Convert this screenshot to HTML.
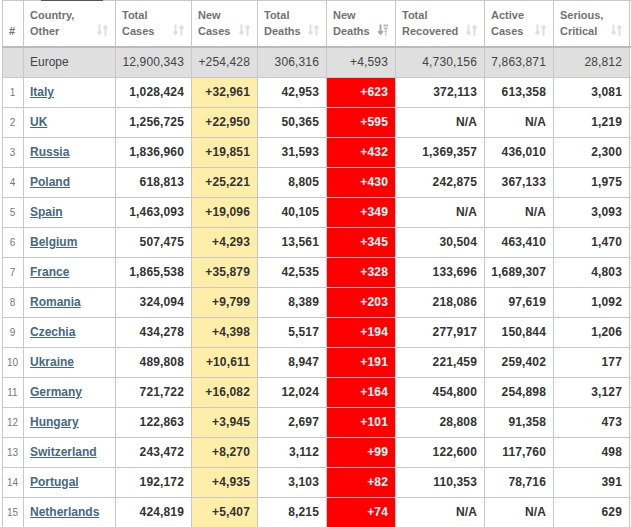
<!DOCTYPE html><html><head><meta charset="utf-8"><style>
html,body{margin:0;padding:0;background:#fff;width:631px;height:527px;overflow:hidden;position:relative;font-family:"Liberation Sans",sans-serif;}
.c{position:absolute;box-sizing:border-box;}
.vl{position:absolute;top:0;width:1px;height:527px;background:#c8c8c8;}
.hl{position:absolute;left:2px;width:640px;height:1px;background:#c8c8c8;}
.th{position:absolute;top:0;height:47px;color:#727272;font-size:11px;font-weight:bold;line-height:16px;}
.th .t{position:absolute;left:7px;top:7px;}
.th .si{position:absolute;right:7px;top:24px;}
.num{position:absolute;text-align:right;font-size:12px;font-weight:bold;color:#333;line-height:30px;letter-spacing:0.15px;}
.eu{font-weight:normal;color:#444;font-size:12px;}
.rn{position:absolute;font-size:10px;color:#777;line-height:30px;padding-top:1px;}
.cn{position:absolute;font-size:12px;font-weight:bold;line-height:30px;}
.cn a{color:#466886;text-decoration:underline;}
</style></head><body>

<div class="c" style="left:2px;top:47px;width:627px;height:30px;background:#dfdfdf"></div>
<div class="c" style="left:191px;top:77px;width:66px;height:450px;background:#ffeeaa"></div>
<div class="c" style="left:326px;top:77px;width:69px;height:450px;background:#ff0000"></div>
<div class="vl" style="left:2px"></div>
<div class="vl" style="left:23px"></div>
<div class="vl" style="left:115px"></div>
<div class="vl" style="left:191px"></div>
<div class="vl" style="left:257px"></div>
<div class="vl" style="left:326px"></div>
<div class="vl" style="left:395px"></div>
<div class="vl" style="left:484px"></div>
<div class="vl" style="left:553px"></div>
<div class="hl" style="top:0px"></div>
<div class="c" style="left:41px;top:0;width:62px;height:1px;background:#555"></div>
<div class="vl" style="left:629px"></div>
<div class="hl" style="top:46px;height:2px;background:#bbb"></div>
<div class="hl" style="top:77px"></div>
<div class="hl" style="top:107px"></div>
<div class="hl" style="top:137px"></div>
<div class="hl" style="top:167px"></div>
<div class="hl" style="top:197px"></div>
<div class="hl" style="top:227px"></div>
<div class="hl" style="top:257px"></div>
<div class="hl" style="top:287px"></div>
<div class="hl" style="top:317px"></div>
<div class="hl" style="top:347px"></div>
<div class="hl" style="top:377px"></div>
<div class="hl" style="top:407px"></div>
<div class="hl" style="top:437px"></div>
<div class="hl" style="top:467px"></div>
<div class="hl" style="top:497px"></div>
<div class="hl" style="top:527px"></div>
<div class="th" style="left:2px;width:21px"><span class="t" style="top:23px;left:7px">#</span></div>
<div class="th" style="left:23px;width:92px"><span class="t">Country,<br>Other</span><svg class="si" width="11" height="12" viewBox="0 0 11 12"><path d="M2.5 0.5v9M0.5 7.5l2 2.5 2-2.5" stroke="#e0e0e0" stroke-width="2" fill="none"/><path d="M8.5 11.5v-9M6.5 4.5l2-2.5 2 2.5" stroke="#e0e0e0" stroke-width="2" fill="none"/></svg></div>
<div class="th" style="left:115px;width:76px"><span class="t">Total<br>Cases</span><svg class="si" width="11" height="12" viewBox="0 0 11 12"><path d="M2.5 0.5v9M0.5 7.5l2 2.5 2-2.5" stroke="#e0e0e0" stroke-width="2" fill="none"/><path d="M8.5 11.5v-9M6.5 4.5l2-2.5 2 2.5" stroke="#e0e0e0" stroke-width="2" fill="none"/></svg></div>
<div class="th" style="left:191px;width:66px"><span class="t">New<br>Cases</span><svg class="si" width="11" height="12" viewBox="0 0 11 12"><path d="M2.5 0.5v9M0.5 7.5l2 2.5 2-2.5" stroke="#e0e0e0" stroke-width="2" fill="none"/><path d="M8.5 11.5v-9M6.5 4.5l2-2.5 2 2.5" stroke="#e0e0e0" stroke-width="2" fill="none"/></svg></div>
<div class="th" style="left:257px;width:69px"><span class="t">Total<br>Deaths</span><svg class="si" width="11" height="12" viewBox="0 0 11 12"><path d="M2.5 0.5v9M0.5 7.5l2 2.5 2-2.5" stroke="#e0e0e0" stroke-width="2" fill="none"/><path d="M8.5 11.5v-9M6.5 4.5l2-2.5 2 2.5" stroke="#e0e0e0" stroke-width="2" fill="none"/></svg></div>
<div class="th" style="left:326px;width:69px"><span class="t">New<br>Deaths</span><svg class="si" width="11" height="12" viewBox="0 0 11 12"><path d="M3.5 0.5v9M1.2 7.2l2.3 2.8 2.3-2.8" stroke="#aaa" stroke-width="2" fill="none"/><path d="M6.5 1.5h4.5M7 4.5h3.5M7.5 7.5h2.5M8 10.5h1.5" stroke="#bbb" stroke-width="2" fill="none"/></svg></div>
<div class="th" style="left:395px;width:89px"><span class="t">Total<br>Recovered</span><svg class="si" width="11" height="12" viewBox="0 0 11 12"><path d="M2.5 0.5v9M0.5 7.5l2 2.5 2-2.5" stroke="#e0e0e0" stroke-width="2" fill="none"/><path d="M8.5 11.5v-9M6.5 4.5l2-2.5 2 2.5" stroke="#e0e0e0" stroke-width="2" fill="none"/></svg></div>
<div class="th" style="left:484px;width:69px"><span class="t">Active<br>Cases</span><svg class="si" width="11" height="12" viewBox="0 0 11 12"><path d="M2.5 0.5v9M0.5 7.5l2 2.5 2-2.5" stroke="#e0e0e0" stroke-width="2" fill="none"/><path d="M8.5 11.5v-9M6.5 4.5l2-2.5 2 2.5" stroke="#e0e0e0" stroke-width="2" fill="none"/></svg></div>
<div class="th" style="left:553px;width:76px"><span class="t">Serious,<br>Critical</span><svg class="si" width="11" height="12" viewBox="0 0 11 12"><path d="M2.5 0.5v9M0.5 7.5l2 2.5 2-2.5" stroke="#e0e0e0" stroke-width="2" fill="none"/><path d="M8.5 11.5v-9M6.5 4.5l2-2.5 2 2.5" stroke="#e0e0e0" stroke-width="2" fill="none"/></svg></div>
<div class="cn" style="left:30px;top:47px;font-weight:normal;color:#444">Europe</div>
<div class="num eu" style="left:115px;top:47px;width:69px;height:30px;">12,900,343</div>
<div class="num eu" style="left:191px;top:47px;width:59px;height:30px;">+254,428</div>
<div class="num eu" style="left:257px;top:47px;width:62px;height:30px;">306,316</div>
<div class="num eu" style="left:326px;top:47px;width:62px;height:30px;">+4,593</div>
<div class="num eu" style="left:395px;top:47px;width:82px;height:30px;">4,730,156</div>
<div class="num eu" style="left:484px;top:47px;width:62px;height:30px;">7,863,871</div>
<div class="num eu" style="left:553px;top:47px;width:69px;height:30px;">28,812</div>
<div class="rn" style="left:2px;width:21px;text-align:center;top:77px">1</div>
<div class="cn" style="left:30px;top:77px"><a>Italy</a></div>
<div class="num" style="left:115px;top:77px;width:69px;height:30px;">1,028,424</div>
<div class="num" style="left:191px;top:77px;width:59px;height:30px;">+32,961</div>
<div class="num" style="left:257px;top:77px;width:62px;height:30px;">42,953</div>
<div class="num" style="left:326px;top:77px;width:62px;height:30px;color:#fff;">+623</div>
<div class="num" style="left:395px;top:77px;width:82px;height:30px;">372,113</div>
<div class="num" style="left:484px;top:77px;width:62px;height:30px;">613,358</div>
<div class="num" style="left:553px;top:77px;width:69px;height:30px;">3,081</div>
<div class="rn" style="left:2px;width:21px;text-align:center;top:107px">2</div>
<div class="cn" style="left:30px;top:107px"><a>UK</a></div>
<div class="num" style="left:115px;top:107px;width:69px;height:30px;">1,256,725</div>
<div class="num" style="left:191px;top:107px;width:59px;height:30px;">+22,950</div>
<div class="num" style="left:257px;top:107px;width:62px;height:30px;">50,365</div>
<div class="num" style="left:326px;top:107px;width:62px;height:30px;color:#fff;">+595</div>
<div class="num" style="left:395px;top:107px;width:82px;height:30px;">N/A</div>
<div class="num" style="left:484px;top:107px;width:62px;height:30px;">N/A</div>
<div class="num" style="left:553px;top:107px;width:69px;height:30px;">1,219</div>
<div class="rn" style="left:2px;width:21px;text-align:center;top:137px">3</div>
<div class="cn" style="left:30px;top:137px"><a>Russia</a></div>
<div class="num" style="left:115px;top:137px;width:69px;height:30px;">1,836,960</div>
<div class="num" style="left:191px;top:137px;width:59px;height:30px;">+19,851</div>
<div class="num" style="left:257px;top:137px;width:62px;height:30px;">31,593</div>
<div class="num" style="left:326px;top:137px;width:62px;height:30px;color:#fff;">+432</div>
<div class="num" style="left:395px;top:137px;width:82px;height:30px;">1,369,357</div>
<div class="num" style="left:484px;top:137px;width:62px;height:30px;">436,010</div>
<div class="num" style="left:553px;top:137px;width:69px;height:30px;">2,300</div>
<div class="rn" style="left:2px;width:21px;text-align:center;top:167px">4</div>
<div class="cn" style="left:30px;top:167px"><a>Poland</a></div>
<div class="num" style="left:115px;top:167px;width:69px;height:30px;">618,813</div>
<div class="num" style="left:191px;top:167px;width:59px;height:30px;">+25,221</div>
<div class="num" style="left:257px;top:167px;width:62px;height:30px;">8,805</div>
<div class="num" style="left:326px;top:167px;width:62px;height:30px;color:#fff;">+430</div>
<div class="num" style="left:395px;top:167px;width:82px;height:30px;">242,875</div>
<div class="num" style="left:484px;top:167px;width:62px;height:30px;">367,133</div>
<div class="num" style="left:553px;top:167px;width:69px;height:30px;">1,975</div>
<div class="rn" style="left:2px;width:21px;text-align:center;top:197px">5</div>
<div class="cn" style="left:30px;top:197px"><a>Spain</a></div>
<div class="num" style="left:115px;top:197px;width:69px;height:30px;">1,463,093</div>
<div class="num" style="left:191px;top:197px;width:59px;height:30px;">+19,096</div>
<div class="num" style="left:257px;top:197px;width:62px;height:30px;">40,105</div>
<div class="num" style="left:326px;top:197px;width:62px;height:30px;color:#fff;">+349</div>
<div class="num" style="left:395px;top:197px;width:82px;height:30px;">N/A</div>
<div class="num" style="left:484px;top:197px;width:62px;height:30px;">N/A</div>
<div class="num" style="left:553px;top:197px;width:69px;height:30px;">3,093</div>
<div class="rn" style="left:2px;width:21px;text-align:center;top:227px">6</div>
<div class="cn" style="left:30px;top:227px"><a>Belgium</a></div>
<div class="num" style="left:115px;top:227px;width:69px;height:30px;">507,475</div>
<div class="num" style="left:191px;top:227px;width:59px;height:30px;">+4,293</div>
<div class="num" style="left:257px;top:227px;width:62px;height:30px;">13,561</div>
<div class="num" style="left:326px;top:227px;width:62px;height:30px;color:#fff;">+345</div>
<div class="num" style="left:395px;top:227px;width:82px;height:30px;">30,504</div>
<div class="num" style="left:484px;top:227px;width:62px;height:30px;">463,410</div>
<div class="num" style="left:553px;top:227px;width:69px;height:30px;">1,470</div>
<div class="rn" style="left:2px;width:21px;text-align:center;top:257px">7</div>
<div class="cn" style="left:30px;top:257px"><a>France</a></div>
<div class="num" style="left:115px;top:257px;width:69px;height:30px;">1,865,538</div>
<div class="num" style="left:191px;top:257px;width:59px;height:30px;">+35,879</div>
<div class="num" style="left:257px;top:257px;width:62px;height:30px;">42,535</div>
<div class="num" style="left:326px;top:257px;width:62px;height:30px;color:#fff;">+328</div>
<div class="num" style="left:395px;top:257px;width:82px;height:30px;">133,696</div>
<div class="num" style="left:484px;top:257px;width:62px;height:30px;">1,689,307</div>
<div class="num" style="left:553px;top:257px;width:69px;height:30px;">4,803</div>
<div class="rn" style="left:2px;width:21px;text-align:center;top:287px">8</div>
<div class="cn" style="left:30px;top:287px"><a>Romania</a></div>
<div class="num" style="left:115px;top:287px;width:69px;height:30px;">324,094</div>
<div class="num" style="left:191px;top:287px;width:59px;height:30px;">+9,799</div>
<div class="num" style="left:257px;top:287px;width:62px;height:30px;">8,389</div>
<div class="num" style="left:326px;top:287px;width:62px;height:30px;color:#fff;">+203</div>
<div class="num" style="left:395px;top:287px;width:82px;height:30px;">218,086</div>
<div class="num" style="left:484px;top:287px;width:62px;height:30px;">97,619</div>
<div class="num" style="left:553px;top:287px;width:69px;height:30px;">1,092</div>
<div class="rn" style="left:2px;width:21px;text-align:center;top:317px">9</div>
<div class="cn" style="left:30px;top:317px"><a>Czechia</a></div>
<div class="num" style="left:115px;top:317px;width:69px;height:30px;">434,278</div>
<div class="num" style="left:191px;top:317px;width:59px;height:30px;">+4,398</div>
<div class="num" style="left:257px;top:317px;width:62px;height:30px;">5,517</div>
<div class="num" style="left:326px;top:317px;width:62px;height:30px;color:#fff;">+194</div>
<div class="num" style="left:395px;top:317px;width:82px;height:30px;">277,917</div>
<div class="num" style="left:484px;top:317px;width:62px;height:30px;">150,844</div>
<div class="num" style="left:553px;top:317px;width:69px;height:30px;">1,206</div>
<div class="rn" style="left:2px;width:21px;text-align:center;top:347px">10</div>
<div class="cn" style="left:30px;top:347px"><a>Ukraine</a></div>
<div class="num" style="left:115px;top:347px;width:69px;height:30px;">489,808</div>
<div class="num" style="left:191px;top:347px;width:59px;height:30px;">+10,611</div>
<div class="num" style="left:257px;top:347px;width:62px;height:30px;">8,947</div>
<div class="num" style="left:326px;top:347px;width:62px;height:30px;color:#fff;">+191</div>
<div class="num" style="left:395px;top:347px;width:82px;height:30px;">221,459</div>
<div class="num" style="left:484px;top:347px;width:62px;height:30px;">259,402</div>
<div class="num" style="left:553px;top:347px;width:69px;height:30px;">177</div>
<div class="rn" style="left:2px;width:21px;text-align:center;top:377px">11</div>
<div class="cn" style="left:30px;top:377px"><a>Germany</a></div>
<div class="num" style="left:115px;top:377px;width:69px;height:30px;">721,722</div>
<div class="num" style="left:191px;top:377px;width:59px;height:30px;">+16,082</div>
<div class="num" style="left:257px;top:377px;width:62px;height:30px;">12,024</div>
<div class="num" style="left:326px;top:377px;width:62px;height:30px;color:#fff;">+164</div>
<div class="num" style="left:395px;top:377px;width:82px;height:30px;">454,800</div>
<div class="num" style="left:484px;top:377px;width:62px;height:30px;">254,898</div>
<div class="num" style="left:553px;top:377px;width:69px;height:30px;">3,127</div>
<div class="rn" style="left:2px;width:21px;text-align:center;top:407px">12</div>
<div class="cn" style="left:30px;top:407px"><a>Hungary</a></div>
<div class="num" style="left:115px;top:407px;width:69px;height:30px;">122,863</div>
<div class="num" style="left:191px;top:407px;width:59px;height:30px;">+3,945</div>
<div class="num" style="left:257px;top:407px;width:62px;height:30px;">2,697</div>
<div class="num" style="left:326px;top:407px;width:62px;height:30px;color:#fff;">+101</div>
<div class="num" style="left:395px;top:407px;width:82px;height:30px;">28,808</div>
<div class="num" style="left:484px;top:407px;width:62px;height:30px;">91,358</div>
<div class="num" style="left:553px;top:407px;width:69px;height:30px;">473</div>
<div class="rn" style="left:2px;width:21px;text-align:center;top:437px">13</div>
<div class="cn" style="left:30px;top:437px"><a>Switzerland</a></div>
<div class="num" style="left:115px;top:437px;width:69px;height:30px;">243,472</div>
<div class="num" style="left:191px;top:437px;width:59px;height:30px;">+8,270</div>
<div class="num" style="left:257px;top:437px;width:62px;height:30px;">3,112</div>
<div class="num" style="left:326px;top:437px;width:62px;height:30px;color:#fff;">+99</div>
<div class="num" style="left:395px;top:437px;width:82px;height:30px;">122,600</div>
<div class="num" style="left:484px;top:437px;width:62px;height:30px;">117,760</div>
<div class="num" style="left:553px;top:437px;width:69px;height:30px;">498</div>
<div class="rn" style="left:2px;width:21px;text-align:center;top:467px">14</div>
<div class="cn" style="left:30px;top:467px"><a>Portugal</a></div>
<div class="num" style="left:115px;top:467px;width:69px;height:30px;">192,172</div>
<div class="num" style="left:191px;top:467px;width:59px;height:30px;">+4,935</div>
<div class="num" style="left:257px;top:467px;width:62px;height:30px;">3,103</div>
<div class="num" style="left:326px;top:467px;width:62px;height:30px;color:#fff;">+82</div>
<div class="num" style="left:395px;top:467px;width:82px;height:30px;">110,353</div>
<div class="num" style="left:484px;top:467px;width:62px;height:30px;">78,716</div>
<div class="num" style="left:553px;top:467px;width:69px;height:30px;">391</div>
<div class="rn" style="left:2px;width:21px;text-align:center;top:497px">15</div>
<div class="cn" style="left:30px;top:497px"><a>Netherlands</a></div>
<div class="num" style="left:115px;top:497px;width:69px;height:30px;">424,819</div>
<div class="num" style="left:191px;top:497px;width:59px;height:30px;">+5,407</div>
<div class="num" style="left:257px;top:497px;width:62px;height:30px;">8,215</div>
<div class="num" style="left:326px;top:497px;width:62px;height:30px;color:#fff;">+74</div>
<div class="num" style="left:395px;top:497px;width:82px;height:30px;">N/A</div>
<div class="num" style="left:484px;top:497px;width:62px;height:30px;">N/A</div>
<div class="num" style="left:553px;top:497px;width:69px;height:30px;">629</div>
</body></html>
